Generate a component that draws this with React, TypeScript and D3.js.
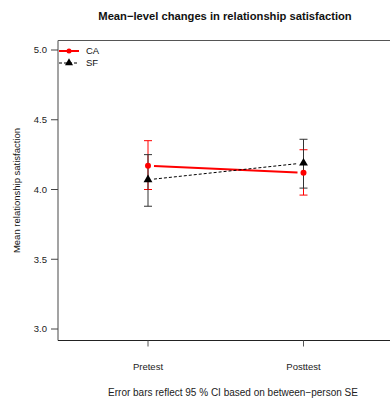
import React from "react";
import * as d3 from "d3";

const timepoints = ["Pretest", "Posttest"];
const groups = ["CA", "SF"];
const caMean = [4.17, 4.12];
const caLower = [4.0, 3.96];
const caUpper = [4.35, 4.285];
const sfMean = [4.07, 4.19];
const sfLower = [3.88, 4.01];
const sfUpper = [4.25, 4.36];
const yTicks = [3.0, 3.5, 4.0, 4.5, 5.0];

const W = 390;
const H = 398;
const FONT = "'Liberation Sans', Arial, Helvetica, sans-serif";

export default function App() {
  const x = d3.scaleLinear().domain([0, 1]).range([148, 303.5]);
  const y = d3.scaleLinear().domain([3, 5]).range([329, 50]);
  const left = 58, top = 40.5, bottom = 340.5, right = 392;

  const series = [
    { name: groups[0], mean: caMean, lo: caLower, hi: caUpper, color: "#ff0000", width: 2, dash: "", shape: "circle" },
    { name: groups[1], mean: sfMean, lo: sfLower, hi: sfUpper, color: "#000000", width: 1, dash: "3,2", shape: "triangle" },
  ];

  const gap = 6;
  const tri = d3.symbol().type(d3.symbolTriangle).size(34);

  return (
    <svg width={W} height={H} style={{ position: "absolute", left: 0, top: 0, background: "#fff" }} fontFamily={FONT}>
      <text x={225} y={20} textAnchor="middle" fontSize={11.2} fontWeight="bold" fill="#111">
        Mean−level changes in relationship satisfaction
      </text>
      {/* box */}
      <line x1={left} x2={right} y1={top} y2={top} stroke="#555" strokeWidth={1} />
      <line x1={left} x2={left} y1={top} y2={bottom} stroke="#666" strokeWidth={1.2} />
      <line x1={left} x2={right} y1={bottom} y2={bottom} stroke="#222" strokeWidth={1.2} />
      {/* y axis */}
      {yTicks.map((t) => (
        <g key={t}>
          <line x1={51} x2={left} y1={y(t)} y2={y(t)} stroke="#444" />
          <text x={47} y={y(t)} dy="0.35em" textAnchor="end" fontSize={9.5} fill="#222">
            {t.toFixed(1)}
          </text>
        </g>
      ))}
      <text transform={`translate(20,${(top + bottom) / 2}) rotate(-90)`} textAnchor="middle" fontSize={9.5} fill="#111">
        Mean relationship satisfaction
      </text>
      {/* x axis */}
      {timepoints.map((tp, i) => (
        <g key={tp}>
          <line x1={x(i)} x2={x(i)} y1={bottom} y2={bottom + 6} stroke="#555" />
          <text x={x(i)} y={370} textAnchor="middle" fontSize={9.5} fill="#222">
            {tp}
          </text>
        </g>
      ))}
      <text x={233} y={396} textAnchor="middle" fontSize={10} fill="#222">
        Error bars reflect 95 % CI based on between−person SE
      </text>
      {/* error bars */}
      {series.map((s) => (
        <g key={s.name + "eb"}>
          {timepoints.map((tp, i) => (
            <g key={tp} stroke={s.color === "#000000" ? "#333" : s.color} strokeWidth={1}>
              <line x1={x(i)} x2={x(i)} y1={y(s.lo[i])} y2={y(s.hi[i])} />
              <line x1={x(i) - 4} x2={x(i) + 4} y1={y(s.lo[i])} y2={y(s.lo[i])} />
              <line x1={x(i) - 4} x2={x(i) + 4} y1={y(s.hi[i])} y2={y(s.hi[i])} />
            </g>
          ))}
        </g>
      ))}
      {/* lines with gaps */}
      {series.map((s) => {
        const x0 = x(0), y0 = y(s.mean[0]), x1 = x(1), y1 = y(s.mean[1]);
        const len = Math.hypot(x1 - x0, y1 - y0);
        const ux = (x1 - x0) / len, uy = (y1 - y0) / len;
        return (
          <line
            key={s.name + "ln"}
            x1={x0 + ux * gap}
            y1={y0 + uy * gap}
            x2={x1 - ux * gap}
            y2={y1 - uy * gap}
            stroke={s.color}
            strokeWidth={s.width}
            strokeDasharray={s.dash}
          />
        );
      })}
      {/* points */}
      {series.map((s) => (
        <g key={s.name + "pt"}>
          {timepoints.map((tp, i) =>
            s.shape === "circle" ? (
              <circle key={tp} cx={x(i)} cy={y(s.mean[i])} r={3} fill={s.color} />
            ) : (
              <path key={tp} d={tri() as string} transform={`translate(${x(i)},${y(s.mean[i])})`} fill={s.color} />
            )
          )}
        </g>
      ))}
      {/* legend */}
      {series.map((s, k) => {
        const ly = 51 + k * 12;
        return (
          <g key={s.name + "lg"}>
            <line x1={59} x2={79} y1={ly} y2={ly} stroke={s.color} strokeWidth={s.width} strokeDasharray={s.dash} />
            {s.shape === "circle" ? (
              <circle cx={69} cy={ly} r={2.5} fill={s.color} />
            ) : (
              <path d={d3.symbol().type(d3.symbolTriangle).size(28)() as string} transform={`translate(69,${ly})`} fill={s.color} />
            )}
            <text x={86} y={ly} dy="0.35em" fontSize={9.5} fill="#111">
              {s.name}
            </text>
          </g>
        );
      })}
    </svg>
  );
}
